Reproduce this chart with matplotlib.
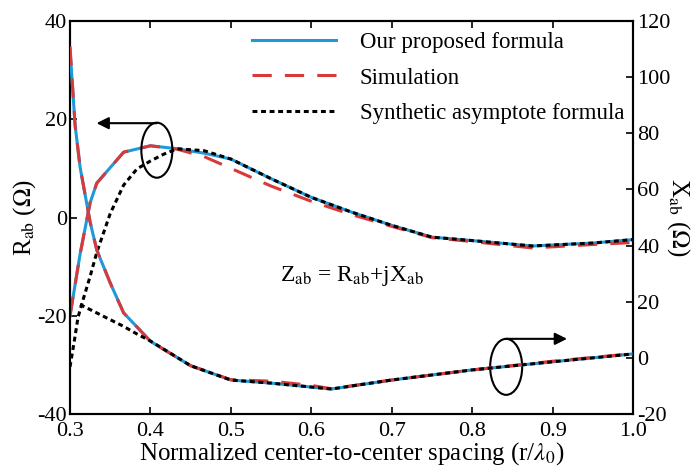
import matplotlib
matplotlib.use("Agg")
import matplotlib.pyplot as plt
from matplotlib.patches import Ellipse

plt.rcParams['font.family'] = ['Liberation Serif', 'DejaVu Serif']
plt.rcParams['mathtext.fontset'] = 'stix'
plt.rcParams['axes.unicode_minus'] = False

# ---- data ----
x_R = [0.3, 0.3125, 0.325, 0.3333, 0.3667, 0.4, 0.4333, 0.4667, 0.5, 0.55,
       0.6, 0.65, 0.7, 0.75, 0.8, 0.875, 0.95, 1.0]
R_proposed = [-20, -7.5, 3.0, 7.0, 13.3, 14.6, 14.0, 13.1, 11.9, 7.9,
              4.1, 1.1, -1.6, -4.0, -4.7, -5.8, -5.2, -4.5]
R_simulation = [-20, -7.5, 3.0, 7.0, 13.3, 14.6, 13.9, 12.4, 10.0, 6.4,
                3.3, 0.6, -1.8, -4.1, -4.9, -6.2, -5.5, -5.1]
x_R_asym = [0.3, 0.305, 0.31, 0.3167, 0.325, 0.3333, 0.35, 0.3667, 0.3833, 0.4,
            0.4167, 0.4333, 0.4667, 0.5, 0.55, 0.6, 0.65, 0.7, 0.75, 0.8,
            0.875, 0.95, 1.0]
R_asymptote = [-30.4, -25.5, -20.3, -16.5, -12.0, -7.1, 0.8, 6.6, 9.9, 11.5,
               12.9, 14.0, 13.6, 11.9, 7.9, 4.1, 1.1, -1.6, -4.0, -4.7,
               -5.8, -5.2, -4.5]

x_X = [0.3, 0.3063, 0.3125, 0.325, 0.3333, 0.35, 0.3667, 0.3833, 0.4, 0.45,
       0.5, 0.55, 0.6, 0.625, 0.7, 0.8, 0.9, 1.0]
X_proposed = [110, 83, 68, 48.4, 38.4, 26.7, 16.0, 11.0, 5.9, -2.8,
              -7.9, -9.0, -10.4, -11.1, -7.9, -4.3, -1.4, 1.4]
X_simulation = [111, 83, 68, 48.4, 38.4, 26.7, 16.0, 11.0, 5.9, -2.8,
                -7.8, -8.3, -9.8, -11.0, -7.9, -4.3, -1.2, 1.5]
x_X_asym = [0.3125, 0.3333, 0.35, 0.3667, 0.3833, 0.4, 0.45, 0.5, 0.55, 0.6,
            0.625, 0.7, 0.8, 0.9, 1.0]
X_asymptote = [19.0, 16.0, 13.6, 11.2, 8.5, 6.0, -2.8, -7.9, -9.0, -10.4,
               -11.1, -7.9, -4.3, -1.4, 1.4]

x_ticks = [0.3, 0.4, 0.5, 0.6, 0.7, 0.8, 0.9, 1.0]
R_ticks = [-40, -20, 0, 20, 40]
X_ticks = [-20, 0, 20, 40, 60, 80, 100, 120]

labels = ['Our proposed formula', 'Simulation', 'Synthetic asymptote formula']

# ---- style ----
c_blue = '#1f9ad6'
c_red = '#d8393a'
lw = 2.2
FS = 16
LFS = 18

fig = plt.figure(figsize=(7, 4.7), dpi=100)
ax = fig.add_axes([70/700, 1 - 414/470, 563/700, 393/470])
ax2 = ax.twinx()

ax.plot(x_R, R_proposed, color=c_blue, lw=lw, zorder=3)
ax.plot(x_R, R_simulation, color=c_red, lw=lw, dashes=(6.3, 4.3), zorder=4)
ax.plot(x_R_asym, R_asymptote, color='black', lw=lw, dashes=(1.6, 1.2), zorder=5)

l1, = ax2.plot(x_X, X_proposed, color=c_blue, lw=lw, zorder=3)
l2, = ax2.plot(x_X, X_simulation, color=c_red, lw=lw, dashes=(6.3, 4.3), zorder=4)
l3, = ax2.plot(x_X_asym, X_asymptote, color='black', lw=lw, dashes=(1.6, 1.2), zorder=5)

ax.set_xlim(0.3, 1.0)
ax.set_ylim(-40, 40)
ax2.set_ylim(-20, 120)
ax.set_xticks(x_ticks)
ax.set_xticklabels([f'{v:.1f}' for v in x_ticks])
ax.set_yticks(R_ticks)
ax2.set_yticks(X_ticks)

for a in (ax, ax2):
    for s in a.spines.values():
        s.set_linewidth(1.5)
ax.tick_params(axis='both', direction='in', length=5, width=1.2, labelsize=FS,
               top=True, right=False)
ax.tick_params(axis='x', pad=6)
ax.tick_params(axis='y', pad=2)
ax2.tick_params(axis='y', direction='in', length=5, width=1.2, labelsize=FS, pad=3)

ax.set_xlabel(r'Normalized center-to-center spacing (r/$\lambda_0$)', fontsize=LFS, labelpad=-1)
ax.set_ylabel(r'R$_{\rm ab}$ ($\Omega$)', fontsize=LFS, labelpad=0)
ax2.set_ylabel(r'X$_{\rm ab}$ ($\Omega$)', fontsize=LFS, rotation=270, labelpad=15)

ax.text(0.5615, -12.0, r'Z$_{\rm ab}$ = R$_{\rm ab}$+jX$_{\rm ab}$', fontsize=FS + 1,
        ha='left', va='center')

# annotations: ellipses + arrows
ax.add_patch(Ellipse((0.408, 13.7), 0.0386, 11.2, fill=False, lw=1.5, color='black', zorder=6))
ax.annotate('', xy=(0.333, 19.2), xytext=(0.408, 19.2),
            arrowprops=dict(arrowstyle='-|>', color='black', lw=1.5,
                            mutation_scale=18, shrinkA=0, shrinkB=0), zorder=6)
ax.add_patch(Ellipse((0.8423, -30.4), 0.0398, 11.4, fill=False, lw=1.5, color='black', zorder=6))
ax.annotate('', xy=(0.918, -24.7), xytext=(0.8423, -24.7),
            arrowprops=dict(arrowstyle='-|>', color='black', lw=1.5,
                            mutation_scale=18, shrinkA=0, shrinkB=0), zorder=6)

leg = ax2.legend([l1, l2, l3], labels, loc='upper left',
                 bbox_to_anchor=(252/700, 1 - 32/470), bbox_transform=fig.transFigure,
                 frameon=False, fontsize=16.5, handlelength=3.65, handletextpad=1.05,
                 labelspacing=0.63, borderpad=0, borderaxespad=0)

fig.savefig('out.png', dpi=100)
